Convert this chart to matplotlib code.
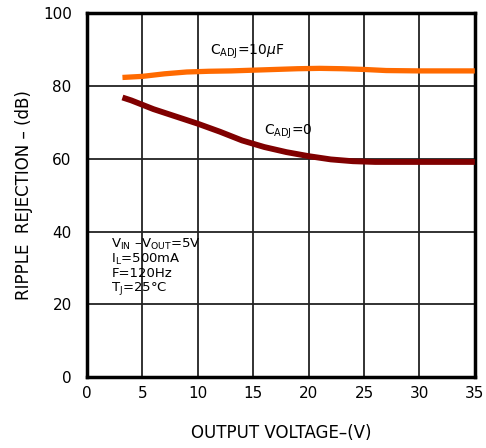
import matplotlib
matplotlib.use("Agg")
import matplotlib.pyplot as plt

# ripple rejection vs output voltage, two adjust-pin capacitor cases
vout_10uf = [3.2, 5, 7, 9, 11, 13, 15, 17, 19, 21, 23, 25, 27, 30, 33, 35]
rr_10uf = [82.3, 82.6, 83.3, 83.8, 84.0, 84.1, 84.3, 84.5, 84.7, 84.8, 84.7, 84.5, 84.2, 84.1, 84.1, 84.1]

vout_0 = [3.2, 4, 5, 6, 7, 8, 10, 12, 14, 16, 18, 20, 22, 24, 26, 28, 30, 32, 35]
rr_0 = [76.8, 76.0, 74.8, 73.6, 72.6, 71.6, 69.6, 67.4, 65.0, 63.2, 61.8, 60.7, 59.8, 59.3, 59.1, 59.1, 59.1, 59.1, 59.1]

xticks = [0, 5, 10, 15, 20, 25, 30, 35]
yticks = [0, 20, 40, 60, 80, 100]

fig = plt.figure(figsize=(4.86, 4.48), dpi=100)
ax = fig.add_axes([0.179, 0.158, 0.798, 0.813])

ax.plot(vout_10uf, rr_10uf, color="#ff6a00", linewidth=3.8, solid_capstyle="butt", zorder=3)
ax.plot(vout_0, rr_0, color="#800000", linewidth=4.2, solid_capstyle="butt", zorder=3)

ax.set_xlim(0, 35)
ax.set_ylim(0, 100)
ax.set_xticks(xticks)
ax.set_yticks(yticks)
ax.grid(True, color="#222222", linewidth=1.3)
ax.tick_params(length=0, labelsize=11)
ax.tick_params(axis="x", pad=6)
ax.tick_params(axis="y", pad=11)
for sp in ax.spines.values():
    sp.set_linewidth(2.5)
    sp.set_color("black")

ax.set_xlabel("OUTPUT VOLTAGE\u2013(V)", fontsize=12, labelpad=17)
ax.set_ylabel("RIPPLE  REJECTION \u2013 (dB)", fontsize=12, labelpad=7)

ax.text(11.1, 88.5, r"C$_{\mathregular{ADJ}}$=10$\mu$F", fontsize=10)
ax.text(16.0, 66.5, r"C$_{\mathregular{ADJ}}$=0", fontsize=10)
ax.text(2.2, 38.5,
        "V$_{\\mathregular{IN}}$ \u2013V$_{\\mathregular{OUT}}$=5V\n"
        "I$_{\\mathregular{L}}$=500mA\n"
        "F=120Hz\n"
        "T$_{\\mathregular{J}}$=25\u00b0C",
        fontsize=9.5, va="top", linespacing=1.0)

fig.savefig("out.png", dpi=100)
